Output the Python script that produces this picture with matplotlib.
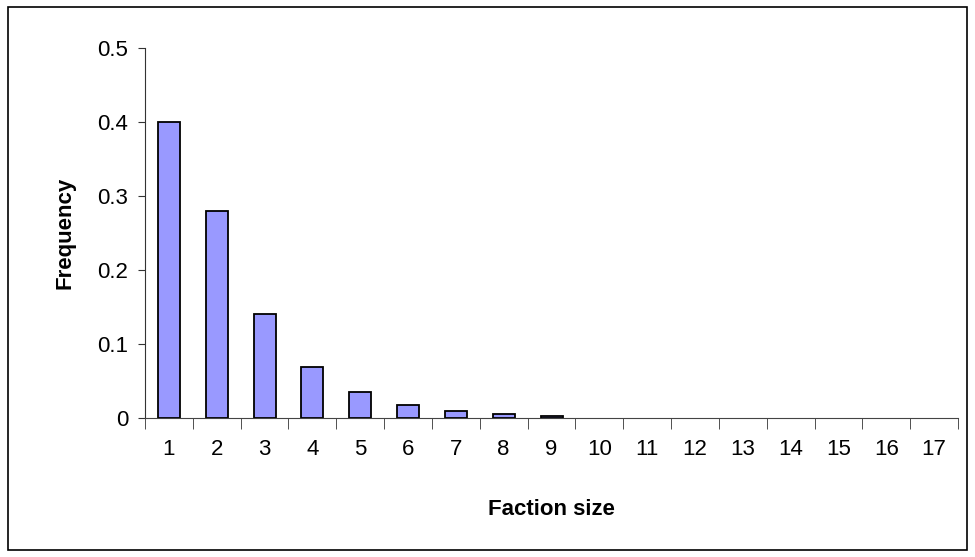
import matplotlib.pyplot as plt
import numpy as np

plt.rcParams['font.family'] = ['Liberation Sans', 'DejaVu Sans']

sizes = list(range(1, 18))
freq = [0.40, 0.28, 0.14, 0.069, 0.035, 0.0175, 0.009, 0.006, 0.003,
        0, 0, 0, 0, 0, 0, 0, 0]

fig = plt.figure(figsize=(9.75, 5.57), dpi=100)
ax = fig.add_axes([0.1487, 0.2496, 0.8339, 0.6642])

x = np.array(sizes)
f = np.array(freq)
nz = f > 0
ax.bar(x[nz], f[nz], width=0.46, color='#9999FF', edgecolor='black', linewidth=1.3)

ax.set_xlim(0.5, 17.5)
ax.set_ylim(0, 0.5)
ax.set_yticks([0, 0.1, 0.2, 0.3, 0.4, 0.5])
ax.set_yticklabels(['0', '0.1', '0.2', '0.3', '0.4', '0.5'])
ax.set_xticks(x)
ax.set_xticklabels([str(s) for s in sizes])
ax.set_xticks(np.arange(0.5, 18, 1), minor=True)
ax.tick_params(axis='x', which='major', length=0, pad=15, labelsize=16)
ax.tick_params(axis='x', which='minor', length=8, direction='out', color='#333333')
ax.tick_params(axis='y', length=5, direction='out', pad=7, labelsize=16, color='#333333')

for s in ['top', 'right']:
    ax.spines[s].set_visible(False)
ax.spines['left'].set_color('#333333')
ax.spines['bottom'].set_color('#444444')

ax.set_xlabel('Faction size', fontsize=16, fontweight='bold', labelpad=28)
ax.set_ylabel('Frequency', fontsize=16, fontweight='bold', labelpad=16)

# outer chart border
fig.patches.append(plt.Rectangle((0.008, 0.012), 0.984, 0.976, transform=fig.transFigure,
                                 fill=False, edgecolor='black', linewidth=1.2))

fig.savefig('out.png', dpi=100)
